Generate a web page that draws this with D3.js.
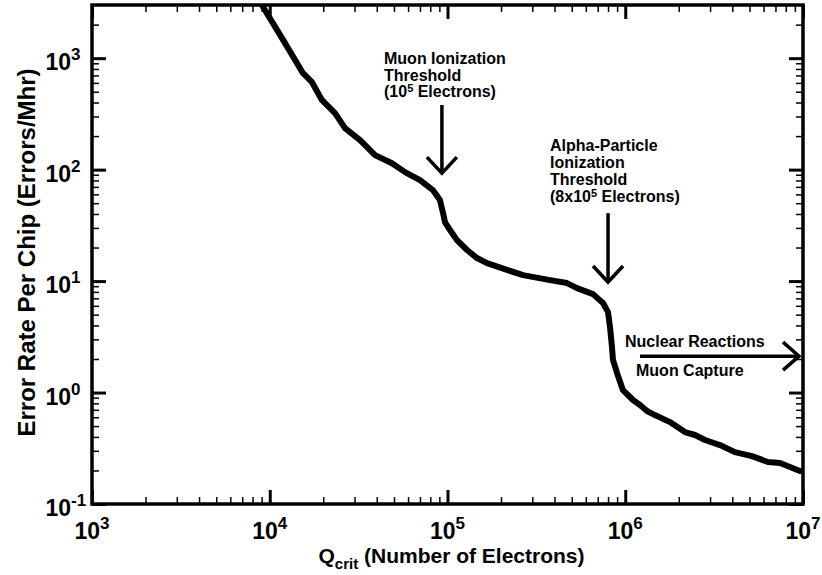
<!DOCTYPE html>
<html>
<head>
<meta charset="utf-8">
<script src="https://cdn.jsdelivr.net/npm/d3@7"></script>
<style>
  html, body { margin: 0; padding: 0; background: #fff; }
  svg { display: block; font-family: "Liberation Sans", Arial, Helvetica, sans-serif; font-weight: bold; }
</style>
</head>
<body>
<svg id="chart" width="822" height="575"></svg>
<script>
// Critical charge (electrons) vs. soft-error rate per chip
const qCrit = [9040, 12190, 15380, 17290, 19680, 23290, 26500, 32200, 39100, 48700,
  57700, 70000, 82800, 90700, 94400, 96800, 103300, 113000, 128800, 146600,
  166800, 216100, 266000, 377400, 470100, 535200, 658600, 749600, 800000, 820800,
  842000, 853000, 899000, 971000, 1.106e6, 1.211e6, 1.326e6, 1.469e6, 1.785e6, 2.168e6,
  2.468e6, 2.81e6, 3.41e6, 4.14e6, 5.16e6, 6.35e6, 7.43e6, 9.61e6];
const errRate = [2987, 1364, 733, 609, 420, 321, 236, 184, 135, 114,
  95, 80.5, 65.5, 53.3, 40.7, 33.8, 28.7, 23.3, 19.0, 16.1,
  14.5, 12.6, 11.3, 10.2, 9.6, 8.65, 7.64, 6.35, 5.27, 3.87,
  2.56, 1.96, 1.50, 1.05, 0.857, 0.773, 0.683, 0.628, 0.543, 0.442,
  0.416, 0.375, 0.338, 0.292, 0.269, 0.238, 0.233, 0.198];

// Axis decades and their exponent labels
const xDecades = [1e3, 1e4, 1e5, 1e6, 1e7];
const xExponents = ["3", "4", "5", "6", "7"];
const yDecades = [1e-1, 1e0, 1e1, 1e2, 1e3];
const yExponents = ["-1", "0", "1", "2", "3"];

// Threshold markers
const muonQ = 9.3e4, muonFrom = 380, muonTo = 93;
const alphaQ = 8e5, alphaFrom = 40.7, alphaTo = 9.8;
const nuclearRate = 2.12, nuclearFrom = 1.21e6, nuclearTo = 9.5e6;

const svg = d3.select("#chart");
const plotL = 92, plotR = 803, plotT = 5, plotB = 504;

const x = d3.scaleLog().domain([1e3, 1e7]).range([plotL, plotR]);
const y = d3.scaleLog().domain([0.1, 3000]).range([plotB, plotT]);

// minor ticks: 2..9 within each decade
function minors(scale) {
  const [a, b] = scale.domain();
  const out = [];
  for (let e = Math.floor(Math.log10(a)); e < Math.ceil(Math.log10(b)); e++) {
    for (let m = 2; m <= 9; m++) {
      const v = m * Math.pow(10, e);
      if (v > a && v < b) out.push(v);
    }
  }
  return out;
}
const xMajor = xDecades, yMajor = yDecades;
const xMinor = minors(x), yMinor = minors(y);

function tickGroup(axisFn, scale, values, size, width, transform) {
  const g = svg.append("g").attr("transform", transform)
    .call(axisFn(scale).tickValues(values).tickSizeInner(size).tickSizeOuter(0).tickFormat(""));
  g.select(".domain").remove();
  g.selectAll(".tick line").attr("stroke", "#000").attr("stroke-width", width);
  return g;
}
// inward ticks on all four sides
const MAJ = 14, MIN = 7;
tickGroup(d3.axisBottom, x, xMajor, -MAJ, 3, `translate(0,${plotB})`);
tickGroup(d3.axisBottom, x, xMinor, -MIN, 1.5, `translate(0,${plotB})`);
tickGroup(d3.axisTop, x, xMajor, -MAJ, 3, `translate(0,${plotT})`);
tickGroup(d3.axisTop, x, xMinor, -MIN, 1.5, `translate(0,${plotT})`);
tickGroup(d3.axisLeft, y, yMajor, -MAJ, 3, `translate(${plotL},0)`);
tickGroup(d3.axisLeft, y, yMinor, -MIN, 1.5, `translate(${plotL},0)`);
tickGroup(d3.axisRight, y, yMajor, -MAJ, 3, `translate(${plotR},0)`);
tickGroup(d3.axisRight, y, yMinor, -MIN, 1.5, `translate(${plotR},0)`);

// frame
svg.append("rect")
  .attr("x", plotL).attr("y", plotT)
  .attr("width", plotR - plotL).attr("height", plotB - plotT)
  .attr("fill", "none").attr("stroke", "#000").attr("stroke-width", 3.5);

// power-of-ten tick labels
const xl = svg.append("g").attr("font-size", 23).attr("fill", "#000");
xDecades.forEach((v, i) => {
  const t = xl.append("text").attr("x", x(v)).attr("y", plotB + 35).attr("text-anchor", "middle");
  t.append("tspan").text("10");
  t.append("tspan").attr("font-size", 17).attr("dy", -10).text(xExponents[i]);
});
const yl = svg.append("g").attr("font-size", 23).attr("fill", "#000");
yDecades.forEach((v, i) => {
  const t = yl.append("text").attr("x", 70).attr("y", y(v) + 12);
  t.append("tspan").text("10");
  t.append("tspan").attr("font-size", 17).attr("dy", -10).text(yExponents[i]);
});
// keep the "10" of each y label ending at the same x, exponent trailing
yl.selectAll("text").each(function () {
  const base = this.firstChild.getComputedTextLength();
  d3.select(this).attr("x", 71 - base);
});

// axis titles
const xt = svg.append("text").attr("x", (plotL + plotR) / 2 + 4).attr("y", 563)
  .attr("text-anchor", "middle").attr("font-size", 21);
xt.append("tspan").text("Q");
xt.append("tspan").attr("font-size", 15).attr("dy", 6).text("crit");
xt.append("tspan").attr("dy", -6).text(" (Number of Electrons)");

svg.append("text")
  .attr("transform", `translate(35,${(plotT + plotB) / 2 - 2}) rotate(-90)`)
  .attr("text-anchor", "middle").attr("font-size", 24)
  .text("Error Rate Per Chip (Errors/Mhr)");

// rate curve
svg.append("clipPath").attr("id", "plot-clip")
  .append("rect").attr("x", plotL).attr("y", plotT).attr("width", plotR - plotL).attr("height", plotB - plotT);
const pts = qCrit.map((q, i) => [q, errRate[i]]);
svg.append("path")
  .datum(pts)
  .attr("clip-path", "url(#plot-clip)")
  .attr("fill", "none").attr("stroke", "#000").attr("stroke-width", 6)
  .attr("stroke-linejoin", "round").attr("stroke-linecap", "round")
  .attr("d", d3.line().x(d => x(d[0])).y(d => y(d[1])));

// annotations
const ann = svg.append("g").attr("stroke", "#000").attr("stroke-width", 3.5).attr("fill", "none");
function downArrow(q, v0, v1) {
  const ax = x(q), y0 = y(v0), y1 = y(v1);
  ann.append("line").attr("x1", ax).attr("x2", ax).attr("y1", y0).attr("y2", y1 - 1);
  ann.append("path").attr("d", `M${ax - 15},${y1 - 16}L${ax},${y1}L${ax + 15},${y1 - 16}`);
}
downArrow(muonQ, muonFrom, muonTo);
downArrow(alphaQ, alphaFrom, alphaTo);
{
  const ay = y(nuclearRate), x0 = x(nuclearFrom), x1 = x(nuclearTo);
  ann.append("line").attr("x1", x0).attr("x2", x1 - 1).attr("y1", ay).attr("y2", ay);
  ann.append("path").attr("d", `M${x1 - 16},${ay - 14}L${x1},${ay}L${x1 - 16},${ay + 14}`);
}

const txt = svg.append("g").attr("font-size", 16).attr("fill", "#000");
function lines(x0, y0, dy, rows) {
  rows.forEach((r, i) => {
    const t = txt.append("text").attr("x", x0).attr("y", y0 + i * dy);
    r.forEach(part => {
      const s = t.append("tspan").text(part.t);
      if (part.sup) s.attr("font-size", 11).attr("dy", -5);
      if (part.down) s.attr("dy", 5);
    });
  });
}
lines(384, 64, 16.7, [
  [{t: "Muon Ionization"}],
  [{t: "Threshold"}],
  [{t: "(10"}, {t: "5", sup: true}, {t: " Electrons)", down: true}]
]);
lines(550, 151, 17, [
  [{t: "Alpha-Particle"}],
  [{t: "Ionization"}],
  [{t: "Threshold"}],
  [{t: "(8x10"}, {t: "5", sup: true}, {t: " Electrons)", down: true}]
]);
lines(625, 347, 0, [[{t: "Nuclear Reactions"}]]);
lines(636, 376, 0, [[{t: "Muon Capture"}]]);
</script>
</body>
</html>
